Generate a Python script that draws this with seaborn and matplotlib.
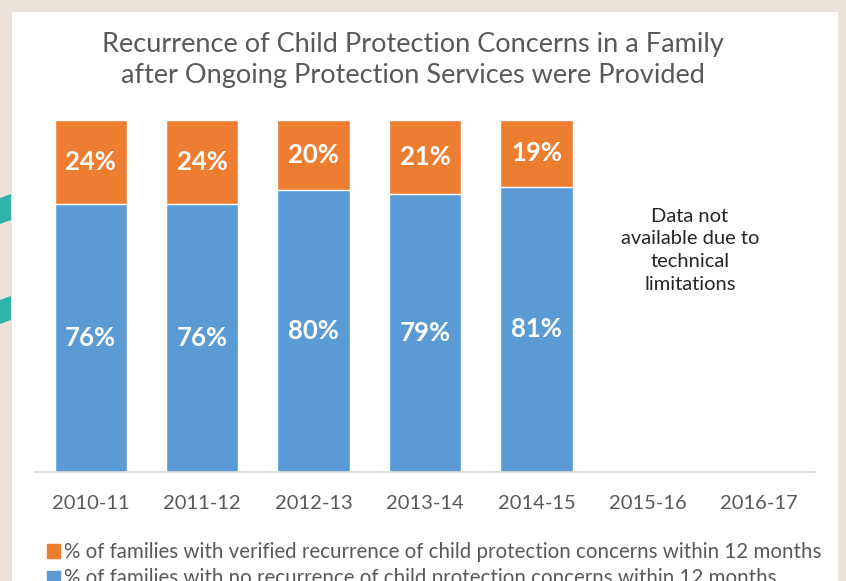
import numpy as np
import pandas as pd
import matplotlib
matplotlib.use("Agg")
import matplotlib.pyplot as plt
from matplotlib.patches import Rectangle, Polygon, Patch
import seaborn as sns

# data
years = ["2010-11", "2011-12", "2012-13", "2013-14", "2014-15", "2015-16", "2016-17"]
no_recurrence = [76, 76, 80, 79, 81, np.nan, np.nan]
recurrence = [24, 24, 20, 21, 19, np.nan, np.nan]
legend_labels = [
    "% of families with verified recurrence of child protection concerns within 12 months",
    "% of families with no recurrence of child protection concerns within 12 months",
]
title = "Recurrence of Child Protection Concerns in a Family\nafter Ongoing Protection Services were Provided"
note = "Data not\navailable due to\ntechnical\nlimitations"

ORANGE = "#ED7D31"
BLUE = "#5B9BD5"
GREY = "#595959"

sns.set_theme(style="white")
plt.rcParams["font.family"] = ["Lato", "DejaVu Sans"]

df = pd.DataFrame({"year": years,
                   "no_rec": np.array(no_recurrence) / 100,
                   "rec": np.array(recurrence) / 100})
df["total"] = df["no_rec"] + df["rec"]

fig = plt.figure(figsize=(8.46, 5.81), dpi=100)
fig.patch.set_facecolor("#ebe2d9")
# white card behind the chart + bits of the photo on the left
fig.patches.append(Rectangle((12 / 846, 0), 826 / 846, 1 - 12 / 581,
                             transform=fig.transFigure, facecolor="white",
                             edgecolor="none", zorder=-2))
for y0, y1 in [(198, 220), (300, 320)]:
    fig.patches.append(Polygon([(0, 1 - y0 / 581), (11 / 846, 1 - (y0 - 4) / 581),
                                (11 / 846, 1 - y1 / 581), (0, 1 - (y1 + 4) / 581)],
                               closed=True, transform=fig.transFigure,
                               facecolor="#2fb3a8", edgecolor="none", zorder=-2))

ax = fig.add_axes([35 / 846, 109 / 581, 780 / 846, 352 / 581])
ax.set_facecolor("none")

sns.barplot(data=df, x="year", y="total", order=years, color=ORANGE,
            width=0.65, saturation=1, ax=ax, errorbar=None)
sns.barplot(data=df, x="year", y="no_rec", order=years, color=BLUE,
            width=0.65, saturation=1, ax=ax, errorbar=None)

for i, (a, b) in enumerate(zip(no_recurrence, recurrence)):
    if np.isnan(a):
        continue
    ax.text(i, a / 200, f"{a:.0f}%", ha="center", va="center",
            color="white", fontsize=18.5, fontweight="bold")
    ax.text(i, a / 100 + b / 200, f"{b:.0f}%", ha="center", va="center",
            color="white", fontsize=18.5, fontweight="bold")

ax.text(5.378, 0.63, note, ha="center", va="center", fontsize=14.5,
        color="#262626", linespacing=1.4)

ax.set_xlim(-0.5, 6.5)
ax.set_ylim(0, 1)
ax.set_xlabel("")
ax.set_ylabel("")
ax.set_yticks([])
ax.tick_params(axis="x", length=0, pad=16.5, labelsize=14.5, labelcolor=GREY)
for s in ["top", "right", "left"]:
    ax.spines[s].set_visible(False)
ax.spines["bottom"].set_color("#d9d9d9")
ax.spines["bottom"].set_linewidth(1.2)

fig.text(413 / 846, 1 - 60 / 581, title, ha="center", va="center",
         fontsize=19.5, color=GREY, linespacing=1.3)

handles = [Patch(color=ORANGE), Patch(color=BLUE)]
fig.legend(handles, legend_labels, loc="upper left",
           bbox_to_anchor=(39 / 846, 1 - 534 / 581), frameon=False,
           fontsize=14.8, labelcolor=GREY, handlelength=0.6, handleheight=0.6,
           handletextpad=0.2, labelspacing=0.3, borderaxespad=0)

fig.savefig("out.png", dpi=100, facecolor=fig.get_facecolor())
